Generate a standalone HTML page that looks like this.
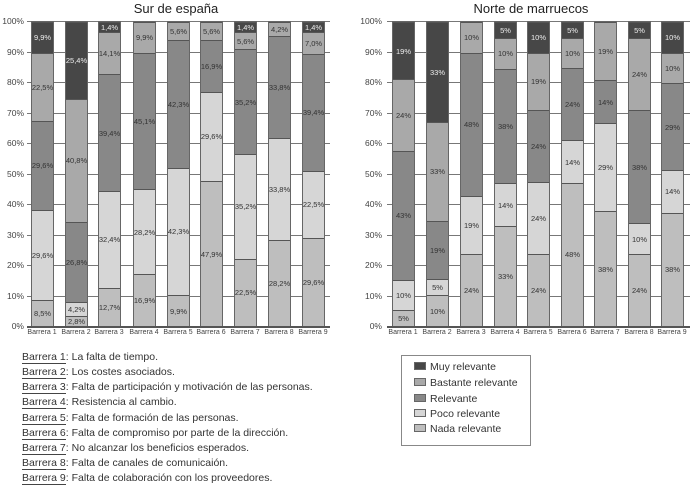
<!DOCTYPE html>
<html><head><meta charset="utf-8"><style>
*{margin:0;padding:0;box-sizing:border-box}
body{width:693px;height:486px;background:#fff;position:relative;overflow:hidden;font-family:"Liberation Sans",Arial,sans-serif;color:#333}
.a{position:absolute}
.t{font-size:13px;color:#222;top:1px;text-align:center;width:300px}
.g{position:absolute;height:1px;background:#777}
.yl{position:absolute;font-size:8.5px;text-align:right;width:24px;color:#444}
.bar{position:absolute;top:21px;width:23px;height:305px;display:flex;flex-direction:column-reverse;border:1px solid #666;border-bottom:none}
.bar div{display:flex;align-items:center;justify-content:center;font-size:7.5px;color:#333;border-top:1px solid #555;overflow:visible;white-space:nowrap;flex-basis:0;flex-shrink:0}
.n{background:#bebebe}.p{background:#d6d6d6}.r{background:#888}.b{background:#a9a9a9}.m{background:#474747;color:#eee!important}
.xl{position:absolute;top:329px;font-size:7px;width:34px;text-align:center;color:#444}
.fn{position:absolute;left:22px;font-size:10.5px;color:#333}
.fn u{text-decoration:none;border-bottom:1px solid #444}
.leg{position:absolute;left:401px;top:355px;width:130px;height:91px;border:1px solid #888}
.li{position:absolute;left:12px;font-size:10.5px;color:#333}
.li i{display:inline-block;width:12px;height:8px;border:1px solid #666;margin-right:4px;vertical-align:0}
</style></head><body>
<div class="a t" style="left:26px">Sur de españa</div>
<div class="a t" style="left:381px">Norte de marruecos</div>

<!-- left grid -->
<div class="g" style="left:27px;width:303px;top:21px"></div>
<div class="g" style="left:27px;width:303px;top:52px"></div>
<div class="g" style="left:27px;width:303px;top:82px"></div>
<div class="g" style="left:27px;width:303px;top:113px"></div>
<div class="g" style="left:27px;width:303px;top:143px"></div>
<div class="g" style="left:27px;width:303px;top:174px"></div>
<div class="g" style="left:27px;width:303px;top:204px"></div>
<div class="g" style="left:27px;width:303px;top:235px"></div>
<div class="g" style="left:27px;width:303px;top:265px"></div>
<div class="g" style="left:27px;width:303px;top:296px"></div>
<div class="g" style="left:27px;width:303px;top:326px;height:1.5px;background:#555"></div>
<div class="yl" style="left:0;top:16px">100%</div>
<div class="yl" style="left:0;top:47px">90%</div>
<div class="yl" style="left:0;top:77px">80%</div>
<div class="yl" style="left:0;top:108px">70%</div>
<div class="yl" style="left:0;top:138px">60%</div>
<div class="yl" style="left:0;top:169px">50%</div>
<div class="yl" style="left:0;top:199px">40%</div>
<div class="yl" style="left:0;top:230px">30%</div>
<div class="yl" style="left:0;top:260px">20%</div>
<div class="yl" style="left:0;top:291px">10%</div>
<div class="yl" style="left:0;top:321px">0%</div>

<!-- right grid -->
<div class="g" style="left:387px;width:303px;top:21px"></div>
<div class="g" style="left:387px;width:303px;top:52px"></div>
<div class="g" style="left:387px;width:303px;top:82px"></div>
<div class="g" style="left:387px;width:303px;top:113px"></div>
<div class="g" style="left:387px;width:303px;top:143px"></div>
<div class="g" style="left:387px;width:303px;top:174px"></div>
<div class="g" style="left:387px;width:303px;top:204px"></div>
<div class="g" style="left:387px;width:303px;top:235px"></div>
<div class="g" style="left:387px;width:303px;top:265px"></div>
<div class="g" style="left:387px;width:303px;top:296px"></div>
<div class="g" style="left:387px;width:303px;top:326px;height:1.5px;background:#555"></div>
<div class="yl" style="left:358px;top:16px">100%</div>
<div class="yl" style="left:358px;top:47px">90%</div>
<div class="yl" style="left:358px;top:77px">80%</div>
<div class="yl" style="left:358px;top:108px">70%</div>
<div class="yl" style="left:358px;top:138px">60%</div>
<div class="yl" style="left:358px;top:169px">50%</div>
<div class="yl" style="left:358px;top:199px">40%</div>
<div class="yl" style="left:358px;top:230px">30%</div>
<div class="yl" style="left:358px;top:260px">20%</div>
<div class="yl" style="left:358px;top:291px">10%</div>
<div class="yl" style="left:358px;top:321px">0%</div>

<!-- left bars -->
<div class="bar" style="left:31px"><div class="n" style="flex-grow:8.5">8,5%</div><div class="p" style="flex-grow:29.6">29,6%</div><div class="r" style="flex-grow:29.6">29,6%</div><div class="b" style="flex-grow:22.5">22,5%</div><div class="m" style="flex-grow:9.9">9,9%</div></div>
<div class="bar" style="left:65px"><div class="n" style="flex-grow:2.8">2,8%</div><div class="p" style="flex-grow:4.2">4,2%</div><div class="r" style="flex-grow:26.8">26,8%</div><div class="b" style="flex-grow:40.8">40,8%</div><div class="m" style="flex-grow:25.4">25,4%</div></div>
<div class="bar" style="left:98px"><div class="n" style="flex-grow:12.7">12,7%</div><div class="p" style="flex-grow:32.4">32,4%</div><div class="r" style="flex-grow:39.4">39,4%</div><div class="b" style="flex-grow:14.1">14,1%</div><div class="m" style="flex-grow:1.4">1,4%</div></div>
<div class="bar" style="left:133px"><div class="n" style="flex-grow:16.9">16,9%</div><div class="p" style="flex-grow:28.2">28,2%</div><div class="r" style="flex-grow:45.1">45,1%</div><div class="b" style="flex-grow:9.9">9,9%</div></div>
<div class="bar" style="left:167px"><div class="n" style="flex-grow:9.9">9,9%</div><div class="p" style="flex-grow:42.3">42,3%</div><div class="r" style="flex-grow:42.3">42,3%</div><div class="b" style="flex-grow:5.6">5,6%</div></div>
<div class="bar" style="left:200px"><div class="n" style="flex-grow:47.9">47,9%</div><div class="p" style="flex-grow:29.6">29,6%</div><div class="r" style="flex-grow:16.9">16,9%</div><div class="b" style="flex-grow:5.6">5,6%</div></div>
<div class="bar" style="left:234px"><div class="n" style="flex-grow:22.5">22,5%</div><div class="p" style="flex-grow:35.2">35,2%</div><div class="r" style="flex-grow:35.2">35,2%</div><div class="b" style="flex-grow:5.6">5,6%</div><div class="m" style="flex-grow:1.4">1,4%</div></div>
<div class="bar" style="left:268px"><div class="n" style="flex-grow:28.2">28,2%</div><div class="p" style="flex-grow:33.8">33,8%</div><div class="r" style="flex-grow:33.8">33,8%</div><div class="b" style="flex-grow:4.2">4,2%</div></div>
<div class="bar" style="left:302px"><div class="n" style="flex-grow:29.6">29,6%</div><div class="p" style="flex-grow:22.5">22,5%</div><div class="r" style="flex-grow:39.4">39,4%</div><div class="b" style="flex-grow:7.0">7,0%</div><div class="m" style="flex-grow:1.4">1,4%</div></div>

<!-- right bars -->
<div class="bar" style="left:392px"><div class="n" style="flex-grow:5">5%</div><div class="p" style="flex-grow:10">10%</div><div class="r" style="flex-grow:43">43%</div><div class="b" style="flex-grow:24">24%</div><div class="m" style="flex-grow:19">19%</div></div>
<div class="bar" style="left:426px"><div class="n" style="flex-grow:10">10%</div><div class="p" style="flex-grow:5">5%</div><div class="r" style="flex-grow:19">19%</div><div class="b" style="flex-grow:33">33%</div><div class="m" style="flex-grow:33">33%</div></div>
<div class="bar" style="left:460px"><div class="n" style="flex-grow:24">24%</div><div class="p" style="flex-grow:19">19%</div><div class="r" style="flex-grow:48">48%</div><div class="b" style="flex-grow:10">10%</div></div>
<div class="bar" style="left:494px"><div class="n" style="flex-grow:33">33%</div><div class="p" style="flex-grow:14">14%</div><div class="r" style="flex-grow:38">38%</div><div class="b" style="flex-grow:10">10%</div><div class="m" style="flex-grow:5">5%</div></div>
<div class="bar" style="left:527px"><div class="n" style="flex-grow:24">24%</div><div class="p" style="flex-grow:24">24%</div><div class="r" style="flex-grow:24">24%</div><div class="b" style="flex-grow:19">19%</div><div class="m" style="flex-grow:10">10%</div></div>
<div class="bar" style="left:561px"><div class="n" style="flex-grow:48">48%</div><div class="p" style="flex-grow:14">14%</div><div class="r" style="flex-grow:24">24%</div><div class="b" style="flex-grow:10">10%</div><div class="m" style="flex-grow:5">5%</div></div>
<div class="bar" style="left:594px"><div class="n" style="flex-grow:38">38%</div><div class="p" style="flex-grow:29">29%</div><div class="r" style="flex-grow:14">14%</div><div class="b" style="flex-grow:19">19%</div></div>
<div class="bar" style="left:628px"><div class="n" style="flex-grow:24">24%</div><div class="p" style="flex-grow:10">10%</div><div class="r" style="flex-grow:38">38%</div><div class="b" style="flex-grow:24">24%</div><div class="m" style="flex-grow:5">5%</div></div>
<div class="bar" style="left:661px"><div class="n" style="flex-grow:38">38%</div><div class="p" style="flex-grow:14">14%</div><div class="r" style="flex-grow:29">29%</div><div class="b" style="flex-grow:10">10%</div><div class="m" style="flex-grow:10">10%</div></div>

<!-- x labels -->
<div class="xl" style="left:25px">Barrera 1</div><div class="xl" style="left:59px">Barrera 2</div><div class="xl" style="left:92px">Barrera 3</div><div class="xl" style="left:127px">Barrera 4</div><div class="xl" style="left:161px">Barrera 5</div><div class="xl" style="left:194px">Barrera 6</div><div class="xl" style="left:228px">Barrera 7</div><div class="xl" style="left:262px">Barrera 8</div><div class="xl" style="left:296px">Barrera 9</div>
<div class="xl" style="left:386px">Barrera 1</div><div class="xl" style="left:420px">Barrera 2</div><div class="xl" style="left:454px">Barrera 3</div><div class="xl" style="left:488px">Barrera 4</div><div class="xl" style="left:521px">Barrera 5</div><div class="xl" style="left:555px">Barrera 6</div><div class="xl" style="left:588px">Barrera 7</div><div class="xl" style="left:622px">Barrera 8</div><div class="xl" style="left:655px">Barrera 9</div>

<!-- footnotes -->
<div class="fn" style="top:351px"><u>Barrera 1</u>: La falta de tiempo.</div>
<div class="fn" style="top:366px"><u>Barrera 2</u>: Los costes asociados.</div>
<div class="fn" style="top:381px"><u>Barrera 3</u>: Falta de participación y motivación de las personas.</div>
<div class="fn" style="top:396px"><u>Barrera 4</u>: Resistencia al cambio.</div>
<div class="fn" style="top:412px"><u>Barrera 5</u>: Falta de formación de las personas.</div>
<div class="fn" style="top:427px"><u>Barrera 6</u>: Falta de compromiso por parte de la dirección.</div>
<div class="fn" style="top:442px"><u>Barrera 7</u>: No alcanzar los beneficios esperados.</div>
<div class="fn" style="top:457px"><u>Barrera 8</u>: Falta de canales de comunicaión.</div>
<div class="fn" style="top:472px"><u>Barrera 9</u>: Falta de colaboración con los proveedores.</div>

<!-- legend -->
<div class="leg">
<div class="li" style="top:5px"><i style="background:#474747"></i>Muy relevante</div>
<div class="li" style="top:21px"><i style="background:#a9a9a9"></i>Bastante relevante</div>
<div class="li" style="top:37px"><i style="background:#888"></i>Relevante</div>
<div class="li" style="top:52px"><i style="background:#d6d6d6"></i>Poco relevante</div>
<div class="li" style="top:67px"><i style="background:#bebebe"></i>Nada relevante</div>
</div>
</body></html>
